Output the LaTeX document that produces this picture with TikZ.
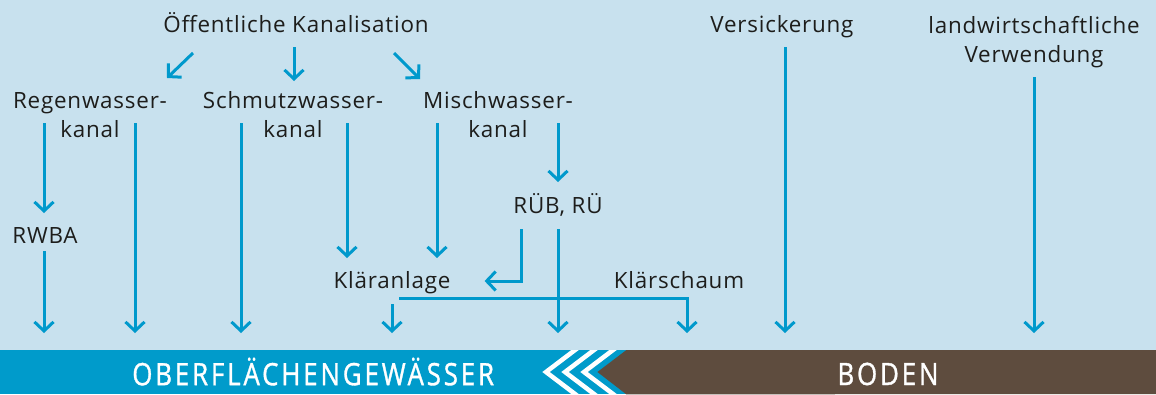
\documentclass[tikz,border=0pt]{standalone}
\usepackage{fontspec}
\usetikzlibrary{arrows.meta,calc}
\newfontfamily\ewfont[LetterSpace=3.5]{Open Sans}
\newfontfamily\ewbandfont[LetterSpace=11,FakeBold=1.2]{Open Sans}
\definecolor{ewsky}{HTML}{C8E1EE}
\definecolor{ewpipe}{HTML}{0099CC}
\definecolor{ewwater}{HTML}{009BCB}
\definecolor{ewsoil}{HTML}{5E4C3E}
\definecolor{ewink}{HTML}{1D1D1B}
\tikzset{
  ewlabel/.style={
    font=\ewfont\fontsize{22.4}{29}\selectfont,
    text=ewink,
    align=center,
    inner sep=0pt,
    anchor=base
  },
  ewband/.style={
    font=\ewbandfont\fontsize{30.8}{31}\selectfont,
    text=white,
    inner xsep=0pt,
    inner ysep=0pt,
    text height=26pt,
    text depth=0pt
  },
  ewflow/.style={
    -{Straight Barb[length=9pt,width=19pt]},
    line width=3pt,
    color=ewpipe
  },
  ewchevron/.style={
    draw=white,
    line width=4.5pt,
    miter limit=10
  }
}
\begin{document}
\begin{tikzpicture}[x=1pt,y=-1pt]
  \useasboundingbox (0,0) rectangle (1156,394);
  \fill[ewsky] (0,0) rectangle (1156,350);

  % Gewaesser und Boden
  \node[ewband, fill=ewwater, minimum width=626pt, minimum height=44pt, anchor=north west] (gew) at (0,350) {\scalebox{0.84}[1]{OBERFLÄCHENGEWÄSSER}};
  \begin{scope}
    \clip (gew.north west) rectangle (gew.south east);
    \foreach \tip in {546,565,584}
      \draw[ewchevron] (\tip+42.2,340) -- (\tip,372) -- (\tip+42.2,404);
  \end{scope}
  \fill[ewsoil] (gew.north east) -- ++(-29,22) -- (gew.south east) -- (1156,394) -- (1156,350) -- cycle;
  \node[ewband] (boden) at (888,372) {\scalebox{0.84}[1]{BODEN}};
  \coordinate (inlet) at ($(gew.north)+(0,-17)$);

  % Texte (Basis = letzte Zeile)
  \node[ewlabel] (oeff) at (296,32) {Öffentliche Kanalisation};
  \node[ewlabel] (regen) at (90,137) {Regenwasser-\\kanal};
  \node[ewlabel] (schmutz) at (293,137) {Schmutzwasser-\\kanal};
  \node[ewlabel] (misch) at (498,137) {Mischwasser-\\kanal};
  \node[ewlabel] (rwba) at (45,243) {RWBA};
  \node[ewlabel] (rueb) at (558,213) {RÜB, RÜ};
  \node[ewlabel] (klaer) at (392,288) {Kläranlage};
  \node[ewlabel] (schaum) at (679,288) {Klärschaum};
  \node[ewlabel] (versick) at (782,32) {Versickerung};
  \node[ewlabel] (landw) at (1034,62) {landwirtschaftliche\\Verwendung};

  % Kanalisation
  \draw[ewflow] ($(oeff.base)+(-103,21)$) -- ($(oeff.base)+(-129,46)$);
  \draw[ewflow] ($(oeff.base)+(-2,15)$) -- ($(oeff.base)+(-2,49)$);
  \draw[ewflow] ($(oeff.base)+(98,21)$) -- ($(oeff.base)+(124,47)$);

  % Trennsystem
  \draw[ewflow] ($(regen.base)+(-46,-14)$) -- ($(regen.base |- rwba.base)+(-46,-30)$);
  \draw[ewflow] ($(rwba.base)+(-1,8)$) -- ($(rwba.base |- inlet)+(-1,0)$);
  \draw[ewflow] ($(regen.base)+(45,-14)$) -- ($(regen.base |- inlet)+(45,0)$);
  \draw[ewflow] ($(schmutz.base)+(-52,-14)$) -- ($(schmutz.base |- inlet)+(-52,0)$);
  \draw[ewflow] ($(schmutz.base)+(54,-14)$) -- ($(schmutz.base |- klaer.base)+(54,-30)$);

  % Mischsystem
  \draw[ewflow] ($(misch.base)+(-61,-14)$) -- ($(misch.base |- klaer.base)+(-61,-30)$);
  \draw[ewflow] ($(misch.base)+(60,-14)$) -- ($(misch.base |- rueb.base)+(60,-31)$);
  \draw[ewflow] ($(rueb.base)+(-37,16)$) |- ($(klaer.east |- klaer.base)+(34,-7)$);
  \draw[ewflow] ($(rueb.base)+(0,16)$) -- (rueb.base |- inlet);

  % Klaeranlage
  \draw[ewflow] ($(klaer.base)+(0,16)$) -- (klaer.base |- inlet);
  \draw[ewflow] ($(klaer.base)+(7,10)$) -| ($(schaum.base |- inlet)+(8,0)$);

  % Boden
  \draw[ewflow] ($(versick.base)+(3,15)$) -- ($(versick.base |- inlet)+(3,0)$);
  \draw[ewflow] ($(landw.base)+(0,15)$) -- (landw.base |- inlet);
\end{tikzpicture}
\end{document}
